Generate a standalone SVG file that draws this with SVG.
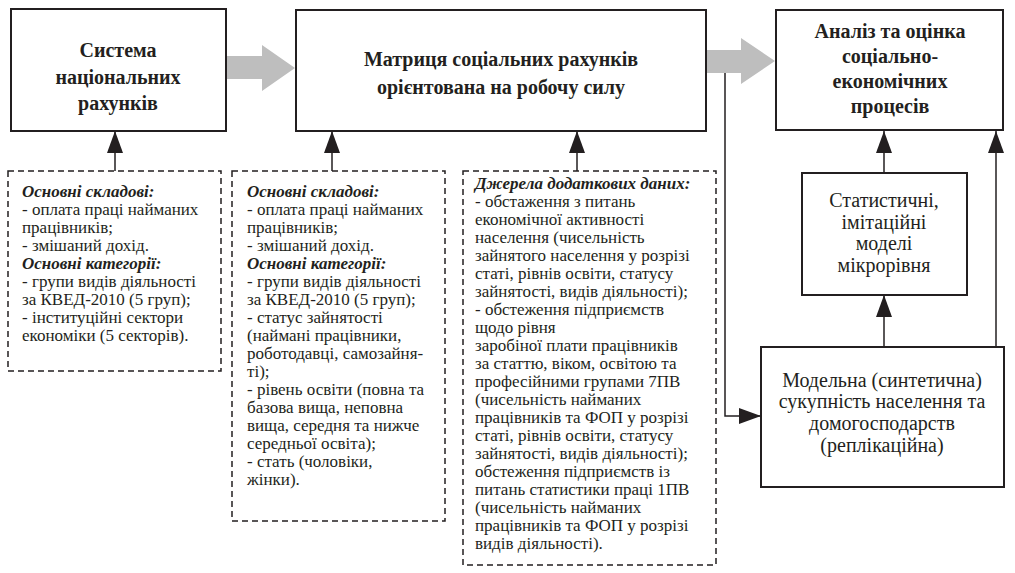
<svg xmlns="http://www.w3.org/2000/svg" width="1015" height="573" viewBox="0 0 1015 573" font-family="Liberation Serif, DejaVu Serif, serif">
<defs>
<style>
.box{fill:#fff;stroke:#231f20;stroke-width:2}
.dash{fill:none;stroke:#231f20;stroke-width:1.5;stroke-dasharray:6,4}
.ln{fill:none;stroke:#231f20;stroke-width:1.5}
.big{font-weight:bold;font-size:20px;text-anchor:middle;fill:#231f20}
.reg{font-size:20px;text-anchor:middle;fill:#231f20}
.t{font-size:17px;fill:#231f20}
.h{font-weight:bold;font-style:italic}
.gray{fill:#bebebe}
</style>
<marker id="ah" viewBox="0 0 22 16" refX="22" refY="8" markerWidth="22" markerHeight="16" markerUnits="userSpaceOnUse" orient="auto">
<path d="M0,0 L22,8 L0,16 Z" fill="#231f20"/>
</marker>
</defs>
<rect width="1015" height="573" fill="#fff"/>

<g id="connectors">
<path class="gray" d="M227,56 H262 V45 L295,68 L262,91 V79 H227 Z"/>
<path class="gray" d="M706,50 H741 V38 L775,61 L741,84 V73 H706 Z"/>
<path class="ln" d="M115,171 V131" marker-end="url(#ah)"/>
<path class="ln" d="M332,171 V131" marker-end="url(#ah)"/>
<path class="ln" d="M577,171 V131" marker-end="url(#ah)"/>
<path class="ln" d="M725,73 V416 H761" marker-end="url(#ah)"/>
<path class="ln" d="M884,173 V131" marker-end="url(#ah)"/>
<path class="ln" d="M996,347 V131" marker-end="url(#ah)"/>
<path class="ln" d="M884,347 V295" marker-end="url(#ah)"/>
</g>

<g id="snr">
<rect class="box" x="11" y="9" width="215" height="122"/>
<text class="big" x="118" y="57">Система</text>
<text class="big" x="118" y="84">національних</text>
<text class="big" x="118" y="110">рахунків</text>
</g>

<g id="msr">
<rect class="box" x="296" y="10" width="410" height="121"/>
<text class="big" x="501" y="66">Матриця соціальних рахунків</text>
<text class="big" x="501" y="94">орієнтована на робочу силу</text>
</g>

<g id="analysis">
<rect class="box" x="776" y="10" width="227" height="120"/>
<text class="big" x="890" y="38">Аналіз та оцінка</text>
<text class="big" x="890" y="63">соціально-</text>
<text class="big" x="890" y="88">економічних</text>
<text class="big" x="890" y="113">процесів</text>
</g>

<g id="models">
<rect class="box" x="802" y="173" width="165" height="122"/>
<text class="reg" x="884" y="207">Статистичні,</text>
<text class="reg" x="884" y="229">імітаційні</text>
<text class="reg" x="884" y="250">моделі</text>
<text class="reg" x="884" y="272">мікрорівня</text>
</g>

<g id="synthetic">
<rect class="box" x="761" y="347" width="243" height="140"/>
<text class="reg" x="882" y="387">Модельна (синтетична)</text>
<text class="reg" x="882" y="408">сукупність населення та</text>
<text class="reg" x="882" y="430">домогосподарств</text>
<text class="reg" x="882" y="452">(реплікаційна)</text>
</g>

<g id="note1">
<rect class="dash" x="8" y="171" width="213" height="200"/>
<text class="t">
<tspan x="22" y="197" class="h">Основні складові:</tspan>
<tspan x="22" y="215">- оплата праці найманих</tspan>
<tspan x="22" y="233">працівників;</tspan>
<tspan x="22" y="251">- змішаний дохід.</tspan>
<tspan x="22" y="269" class="h">Основні категорії:</tspan>
<tspan x="22" y="287">- групи видів діяльності</tspan>
<tspan x="22" y="305">за КВЕД-2010 (5 груп);</tspan>
<tspan x="22" y="323">- інституційні сектори</tspan>
<tspan x="22" y="341">економіки (5 секторів).</tspan>
</text>
</g>

<g id="note2">
<rect class="dash" x="232" y="171" width="213" height="350"/>
<text class="t">
<tspan x="247" y="197" class="h">Основні складові:</tspan>
<tspan x="247" y="215">- оплата праці найманих</tspan>
<tspan x="247" y="233">працівників;</tspan>
<tspan x="247" y="251">- змішаний дохід.</tspan>
<tspan x="247" y="269" class="h">Основні категорії:</tspan>
<tspan x="247" y="287">- групи видів діяльності</tspan>
<tspan x="247" y="305">за КВЕД-2010 (5 груп);</tspan>
<tspan x="247" y="323">- статус зайнятості</tspan>
<tspan x="247" y="341">(наймані працівники,</tspan>
<tspan x="247" y="359">роботодавці, самозайня-</tspan>
<tspan x="247" y="377">ті);</tspan>
<tspan x="247" y="395">- рівень освіти (повна та</tspan>
<tspan x="247" y="413">базова вища, неповна</tspan>
<tspan x="247" y="431">вища, середня та нижче</tspan>
<tspan x="247" y="449">середньої освіта);</tspan>
<tspan x="247" y="467">- стать (чоловіки,</tspan>
<tspan x="247" y="485">жінки).</tspan>
</text>
</g>

<g id="note3">
<rect class="dash" x="463" y="171" width="253" height="394"/>
<text class="t">
<tspan x="475" y="189" class="h">Джерела додаткових даних:</tspan>
<tspan x="475" y="207">- обстаження з питань</tspan>
<tspan x="475" y="225">економічної активності</tspan>
<tspan x="475" y="243">населення (чисельність</tspan>
<tspan x="475" y="261">зайнятого населення у розрізі</tspan>
<tspan x="475" y="279">статі, рівнів освіти, статусу</tspan>
<tspan x="475" y="297">зайнятості, видів діяльності);</tspan>
<tspan x="475" y="315">- обстеження підприємств</tspan>
<tspan x="475" y="333">щодо рівня</tspan>
<tspan x="475" y="351">заробіної плати працівників</tspan>
<tspan x="475" y="369">за статтю, віком, освітою та</tspan>
<tspan x="475" y="387">професійними групами 7ПВ</tspan>
<tspan x="475" y="405">(чисельність найманих</tspan>
<tspan x="475" y="423">працівників та ФОП у розрізі</tspan>
<tspan x="475" y="441">статі, рівнів освіти, статусу</tspan>
<tspan x="475" y="459">зайнятості, видів діяльності);</tspan>
<tspan x="475" y="477">обстеження підприємств із</tspan>
<tspan x="475" y="495">питань статистики праці 1ПВ</tspan>
<tspan x="475" y="513">(чисельність найманих</tspan>
<tspan x="475" y="531">працівників та ФОП у розрізі</tspan>
<tspan x="475" y="549">видів діяльності).</tspan>
</text>
</g>
</svg>
